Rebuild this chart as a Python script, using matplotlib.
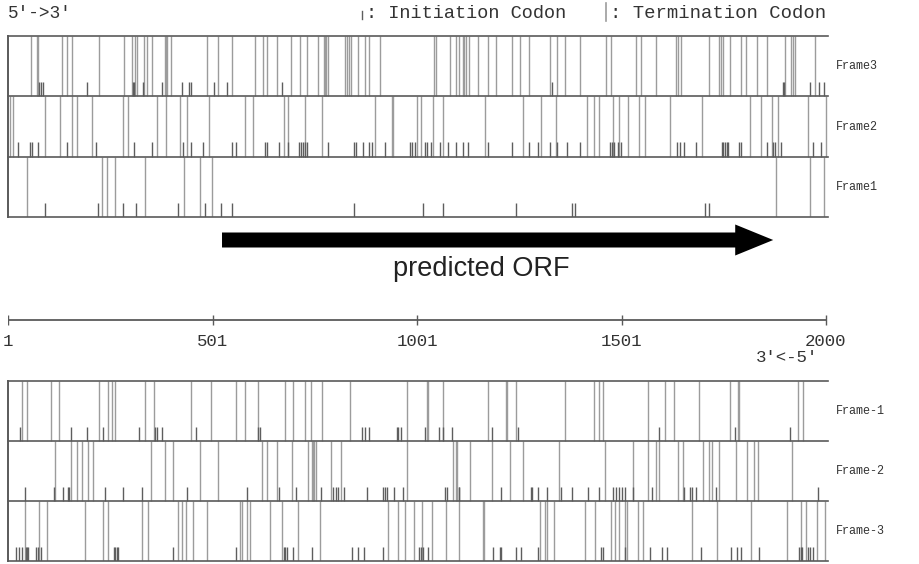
import matplotlib
matplotlib.use("Agg")
import matplotlib.pyplot as plt
from matplotlib.lines import Line2D

# ---------------- data (nucleotide positions, 1..2000) ----------------
seq_start, seq_end = 1, 2000
tick_values = [1, 501, 1001, 1501, 2000]
orf_start, orf_end = 524, 1871

# forward strand: termination (tall) and initiation (short) codons
f3_stop = [56, 71, 74, 132, 144, 157, 224, 285, 304, 312, 316, 333, 340, 353, 384, 387, 390, 399, 487,
           514, 549, 605, 623, 633, 658, 693, 715, 732, 759, 774, 776, 779, 783, 825, 829, 835, 839, 857,
           874, 882, 910, 1042, 1047, 1080, 1096, 1104, 1112, 1116, 1120, 1127, 1150, 1175, 1194, 1232,
           1251, 1273, 1326, 1342, 1362, 1399, 1462, 1474, 1535, 1548, 1584, 1633, 1638, 1645, 1713, 1739,
           1744, 1749, 1766, 1792, 1804, 1831, 1855, 1900, 1915, 1920, 1924, 1972]
f3_start = [77, 82, 87, 193, 306, 310, 332, 377, 426, 443, 447, 504, 536, 670, 1330, 1894, 1898, 1961,
            1983, 1994]

f2_stop = [6, 12, 91, 128, 157, 170, 206, 283, 294, 366, 386, 421, 438, 491, 580, 599, 676, 685, 727,
           768, 898, 939, 941, 1000, 1010, 1039, 1063, 1167, 1260, 1304, 1340, 1415, 1432, 1446, 1480,
           1493, 1517, 1543, 1558, 1619, 1698, 1814, 1841, 1867, 1882, 1957, 1999]
f2_start = [26, 55, 60, 74, 145, 216, 309, 354, 429, 447, 478, 548, 558, 629, 633, 663, 686, 713, 717,
            721, 727, 731, 784, 847, 851, 869, 882, 890, 922, 983, 988, 996, 1020, 1024, 1034, 1057, 1077,
            1096, 1112, 1126, 1175, 1232, 1273, 1296, 1326, 1342, 1366, 1399, 1472, 1476, 1482, 1491,
            1499, 1635, 1643, 1654, 1682, 1745, 1749, 1753, 1758, 1761, 1788, 1792, 1855, 1871, 1876,
            1890, 1969, 1988]

f1_stop = [47, 230, 242, 263, 336, 432, 470, 500, 1878, 1961, 1994]
f1_start = [91, 220, 281, 314, 416, 482, 522, 549, 847, 1016, 1063, 1242, 1380, 1387, 1704, 1713]

# reverse strand
r1_stop = [34, 47, 105, 126, 224, 246, 254, 263, 336, 358, 448, 496, 558, 580, 611, 678, 698, 727, 742,
           769, 837, 975, 1024, 1028, 1063, 1175, 1218, 1221, 1243, 1362, 1432, 1446, 1454, 1566, 1607,
           1629, 1690, 1766, 1784, 1788, 1931, 1945]
r1_start = [30, 154, 193, 232, 322, 360, 364, 377, 460, 613, 616, 865, 874, 882, 951, 955, 961, 1020,
            1055, 1063, 1085, 1183, 1248, 1593, 1778, 1912]

r2_stop = [116, 154, 169, 181, 197, 208, 350, 385, 404, 469, 514, 621, 633, 658, 696, 735, 743, 746,
           750, 753, 790, 815, 975, 1088, 1096, 1099, 1130, 1183, 1228, 1260, 1348, 1460, 1529, 1566,
           1584, 1592, 1638, 1651, 1700, 1714, 1721, 1739, 1779, 1806, 1823, 1833, 1916]
r2_start = [43, 114, 136, 148, 151, 238, 283, 328, 438, 584, 663, 704, 766, 796, 803, 808, 823, 878,
            917, 922, 927, 944, 967, 1069, 1073, 1102, 1104, 1205, 1279, 1282, 1295, 1318, 1352, 1380,
            1419, 1446, 1480, 1488, 1494, 1501, 1509, 1529, 1574, 1654, 1668, 1672, 1682, 1731, 1980]

r3_stop = [43, 77, 96, 189, 234, 246, 328, 344, 417, 426, 436, 454, 487, 568, 572, 584, 592, 641, 671,
           709, 764, 930, 953, 971, 994, 1012, 1037, 1071, 1104, 1161, 1164, 1301, 1313, 1317, 1335,
           1411, 1436, 1475, 1485, 1493, 1509, 1514, 1541, 1553, 1673, 1733, 1817, 1904, 1939, 1951,
           1977, 1998]
r3_start = [21, 28, 34, 45, 48, 51, 69, 75, 81, 260, 263, 267, 270, 405, 558, 676, 679, 682, 698, 743,
            842, 857, 872, 917, 1005, 1010, 1014, 1028, 1187, 1203, 1206, 1242, 1255, 1296, 1450, 1454,
            1509, 1570, 1600, 1611, 1695, 1768, 1782, 1792, 1836, 1934, 1939, 1942, 1955, 1961, 1969]

top_labels = ["Frame3", "Frame2", "Frame1"]
bottom_labels = ["Frame-1", "Frame-2", "Frame-3"]

# ---------------- styling ----------------
W, H = 919, 564
MONO = "Liberation Mono"
STOP_C = "#9c9c9c"
START_C = "#5e5e5e"
FRAME_C = "#5a5a5a"
TEXT_C = "#333333"
X_LEFT_PX, X_RIGHT_PX = 8, 828
PX_PER_NT = (826 - 8) / (seq_end - seq_start)
xmax = seq_start + (X_RIGHT_PX - X_LEFT_PX) / PX_PER_NT

fig = plt.figure(figsize=(W / 100, H / 100), dpi=100)


def fx(px):
    return px / W


def fy(py):
    return 1 - py / H


def panel(top_px, bot_px, rows, labels):
    ax = fig.add_axes([fx(X_LEFT_PX), fy(bot_px), fx(X_RIGHT_PX - X_LEFT_PX), (bot_px - top_px) / H])
    ax.set_xlim(seq_start, xmax)
    ax.set_ylim(0, 3)
    ax.axis("off")
    n = len(rows)
    for i, (stops, starts) in enumerate(rows):
        base = n - 1 - i  # first row on top
        ax.vlines(stops, base, base + 1, colors=STOP_C, lw=1.0, zorder=1)
        ax.vlines(starts, base, base + 0.24, colors=START_C, lw=1.0, zorder=2)
        lab_y = top_px + (bot_px - top_px) * (i + 0.5) / n
        fig.text(fx(836), fy(lab_y), labels[i], family=MONO, fontsize=8.5,
                 color=TEXT_C, ha="left", va="center")
    for yy in range(n + 1):
        ax.axhline(yy, color=FRAME_C, lw=1.2, zorder=3, clip_on=False)
    ax.axvline(seq_start, color=FRAME_C, lw=1.4, zorder=3, clip_on=False)
    return ax


panel(36, 217, [(f3_stop, f3_start), (f2_stop, f2_start), (f1_stop, f1_start)], top_labels)
panel(381, 561, [(r1_stop, r1_start), (r2_stop, r2_start), (r3_stop, r3_start)], bottom_labels)

# ---------------- header ----------------
fig.text(fx(8), fy(14), "5'->3'", family=MONO, fontsize=12.8, color=TEXT_C, ha="left", va="center")
fig.add_artist(Line2D([fx(362), fx(362)], [fy(19), fy(11)], color=START_C, lw=1.0))
fig.text(fx(366), fy(14), ": Initiation Codon", family=MONO, fontsize=13.4, color=TEXT_C,
         ha="left", va="center")
fig.add_artist(Line2D([fx(606), fx(606)], [fy(21), fy(3)], color=STOP_C, lw=1.2))
fig.text(fx(610), fy(14), ": Termination Codon", family=MONO, fontsize=13.6, color=TEXT_C,
         ha="left", va="center")

# ---------------- ORF arrow ----------------
axo = fig.add_axes([fx(X_LEFT_PX), fy(290), fx(X_RIGHT_PX - X_LEFT_PX), 70 / H])
axo.set_xlim(seq_start, xmax)
axo.set_ylim(290, 220)
axo.axis("off")
shaft_half = 7.5
head_half = 15.5
head_len_nt = 38 / PX_PER_NT
yc = 240
axo.fill([orf_start, orf_end - head_len_nt, orf_end - head_len_nt, orf_end,
          orf_end - head_len_nt, orf_end - head_len_nt, orf_start],
         [yc - shaft_half, yc - shaft_half, yc - head_half, yc,
          yc + head_half, yc + shaft_half, yc + shaft_half],
         color="black", lw=0)
axo.text((orf_start + orf_end) / 2 - 40, 269, "predicted ORF", family="Liberation Sans",
         fontsize=19.5, color="#222222", ha="center", va="center")

# ---------------- ruler ----------------
axr = fig.add_axes([fx(X_LEFT_PX), fy(330), fx(X_RIGHT_PX - X_LEFT_PX), 20 / H])
axr.set_xlim(seq_start, xmax)
axr.set_ylim(330, 310)
axr.axis("off")
axr.plot([seq_start, seq_end], [320, 320], color=FRAME_C, lw=1.3)
axr.vlines(tick_values, 315, 325, color=FRAME_C, lw=1.0)
for t in tick_values:
    fig.text(fx(X_LEFT_PX + (t - seq_start) * PX_PER_NT), fy(341), str(t), family=MONO,
             fontsize=12.5, color=TEXT_C, ha="center", va="center")
fig.text(fx(818), fy(358), "3'<-5'", family=MONO, fontsize=12.5, color=TEXT_C,
         ha="right", va="center")

fig.savefig("out.png", dpi=100)
